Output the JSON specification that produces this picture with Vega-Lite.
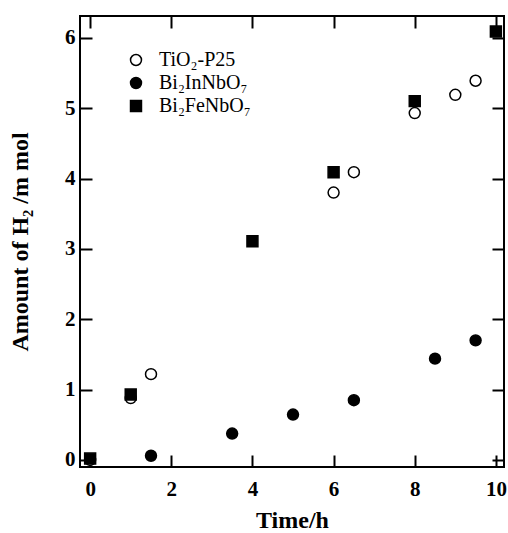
{
  "$schema": "https://vega.github.io/schema/vega-lite/v6.json",
  "width": 424,
  "height": 451,
  "autosize": "none",
  "padding": {"left": 80, "top": 16, "right": 4, "bottom": 66},
  "background": "white",
  "config": {
    "view": {"stroke": "black", "strokeWidth": 2},
    "font": "Liberation Serif",
    "axis": {
      "domain": false,
      "grid": false,
      "ticks": true,
      "tickColor": "black",
      "tickWidth": 2,
      "tickSize": -12,
      "labelFont": "Liberation Serif",
      "labelFontSize": 21,
      "labelFontWeight": "bold",
      "labelColor": "black",
      "titleFont": "Liberation Serif",
      "titleFontSize": 24,
      "titleFontWeight": "bold",
      "titleColor": "black"
    }
  },
  "data": {
    "values": [
      {"time": 0, "amount": 0.0, "sample": "TiO₂-P25"},
      {"time": 1, "amount": 0.88, "sample": "TiO₂-P25"},
      {"time": 1.5, "amount": 1.22, "sample": "TiO₂-P25"},
      {"time": 6, "amount": 3.8, "sample": "TiO₂-P25"},
      {"time": 6.5, "amount": 4.09, "sample": "TiO₂-P25"},
      {"time": 8, "amount": 4.93, "sample": "TiO₂-P25"},
      {"time": 9, "amount": 5.19, "sample": "TiO₂-P25"},
      {"time": 9.5, "amount": 5.39, "sample": "TiO₂-P25"},
      {"time": 1.5, "amount": 0.06, "sample": "Bi₂InNbO₇"},
      {"time": 3.5, "amount": 0.375, "sample": "Bi₂InNbO₇"},
      {"time": 5, "amount": 0.645, "sample": "Bi₂InNbO₇"},
      {"time": 6.5, "amount": 0.85, "sample": "Bi₂InNbO₇"},
      {"time": 8.5, "amount": 1.44, "sample": "Bi₂InNbO₇"},
      {"time": 9.5, "amount": 1.7, "sample": "Bi₂InNbO₇"},
      {"time": 0, "amount": 0.02, "sample": "Bi₂FeNbO₇"},
      {"time": 1, "amount": 0.93, "sample": "Bi₂FeNbO₇"},
      {"time": 4, "amount": 3.11, "sample": "Bi₂FeNbO₇"},
      {"time": 6, "amount": 4.09, "sample": "Bi₂FeNbO₇"},
      {"time": 8, "amount": 5.1, "sample": "Bi₂FeNbO₇"},
      {"time": 10, "amount": 6.09, "sample": "Bi₂FeNbO₇"}
    ]
  },
  "layer": [
    {
      "mark": {"type": "point", "filled": true, "strokeWidth": 1.5, "size": 120, "opacity": 1},
      "encoding": {
        "x": {
          "field": "time", "type": "quantitative",
          "scale": {"domain": [-0.25, 10.2], "nice": false, "zero": false},
          "axis": {"values": [0, 2, 4, 6, 8, 10], "title": "Time/h", "labelPadding": 23, "titlePadding": 9}
        },
        "y": {
          "field": "amount", "type": "quantitative",
          "scale": {"domain": [-0.1, 6.31], "nice": false, "zero": false},
          "axis": {"values": [0, 1, 2, 3, 4, 5, 6], "title": "Amount of H₂ /m mol", "labelPadding": 17, "titlePadding": 32}
        },
        "shape": {
          "field": "sample", "type": "nominal",
          "scale": {"domain": ["TiO₂-P25", "Bi₂InNbO₇", "Bi₂FeNbO₇"], "range": ["circle", "circle", "square"]},
          "legend": {
            "orient": "none", "legendX": 46, "legendY": 34, "title": null,
            "labelFont": "Liberation Serif", "labelFontSize": 20, "labelColor": "black",
            "labelOffset": 13, "rowPadding": 3, "symbolSize": 120,
            "symbolStrokeWidth": 1.5
          }
        },
        "fill": {
          "field": "sample", "type": "nominal",
          "scale": {"domain": ["TiO₂-P25", "Bi₂InNbO₇", "Bi₂FeNbO₇"], "range": ["white", "black", "black"]},
          "legend": {
            "orient": "none", "legendX": 46, "legendY": 34, "title": null,
            "labelFont": "Liberation Serif", "labelFontSize": 20, "labelColor": "black",
            "labelOffset": 13, "rowPadding": 3, "symbolSize": 120,
            "symbolStrokeWidth": 1.5
          }
        },
        "stroke": {
          "field": "sample", "type": "nominal",
          "scale": {"domain": ["TiO₂-P25", "Bi₂InNbO₇", "Bi₂FeNbO₇"], "range": ["black", "black", "black"]},
          "legend": {
            "orient": "none", "legendX": 46, "legendY": 34, "title": null,
            "labelFont": "Liberation Serif", "labelFontSize": 20, "labelColor": "black",
            "labelOffset": 13, "rowPadding": 3, "symbolSize": 120,
            "symbolStrokeWidth": 1.5
          }
        }
      }
    },
    {
      "mark": {"type": "point", "opacity": 0},
      "encoding": {
        "x": {
          "field": "time", "type": "quantitative",
          "axis": {"orient": "top", "values": [0, 2, 4, 6, 8, 10], "labels": false, "title": null}
        },
        "y": {
          "field": "amount", "type": "quantitative",
          "axis": {"orient": "right", "values": [0, 1, 2, 3, 4, 5, 6], "labels": false, "title": null}
        }
      }
    }
  ],
  "resolve": {"axis": {"x": "independent", "y": "independent"}}
}
